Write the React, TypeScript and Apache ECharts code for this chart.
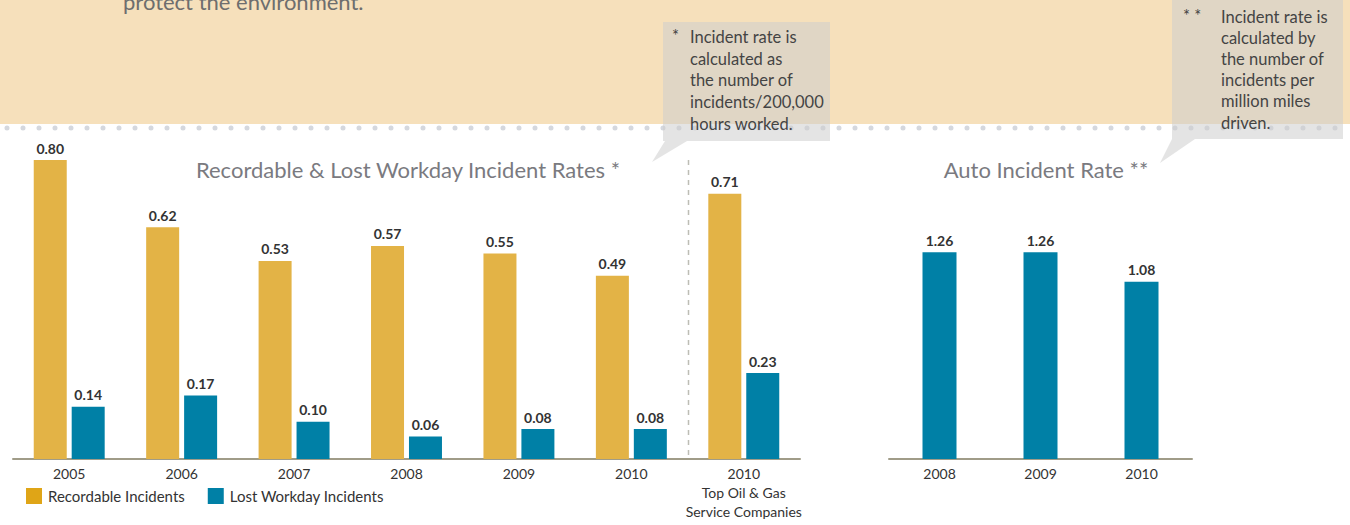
import React, { useEffect, useRef } from "react";
import * as echarts from "echarts";

const incidentCategories = ["2005", "2006", "2007", "2008", "2009", "2010", "2010\nTop Oil & Gas\nService Companies"];
const recordableValues = [0.8, 0.62, 0.53, 0.57, 0.55, 0.49, 0.71];
const lostWorkdayValues = [0.14, 0.17, 0.1, 0.06, 0.08, 0.08, 0.23];
const autoCategories = ["2008", "2009", "2010"];
const autoValues = [1.26, 1.26, 1.08];

const FONT = "Lato, 'Open Sans', sans-serif";
const YELLOW = "#E3B346";
const BLUE = "#0080A6";
const AXIS = "#A09C88";

export default function App() {
  const ref = useRef<HTMLDivElement>(null);
  useEffect(() => {
    document.body.style.margin = "0";
    const chart = echarts.init(ref.current!, undefined, { renderer: "svg" });
    const label = {
      show: true,
      position: "top",
      distance: 5,
      fontFamily: FONT,
      fontSize: 14,
      fontWeight: "bold",
      color: "#333",
      formatter: (p: any) => Number(p.value).toFixed(2),
    };
    const xCommon = {
      type: "category",
      axisLine: { lineStyle: { color: AXIS, width: 2 } },
      axisTick: { inside: true, length: 4, interval: 0, lineStyle: { color: AXIS, width: 2 } },
      axisLabel: { interval: 0, fontFamily: FONT, fontSize: 14, color: "#333", margin: 5, lineHeight: 19 },
    };
    const calloutText = { fontFamily: FONT, fontSize: 16.5, fill: "#444" };
    const staticGraphics: any[] = [
      { type: "rect", z: -10, shape: { x: 0, y: 0, width: 1350, height: 124 }, style: { fill: "#F6E0BB" } },
      {
        type: "text",
        x: 123,
        y: 12,
        style: { text: "protect the environment.", fontFamily: FONT, fontSize: 22, fill: "#6E6E6E", verticalAlign: "bottom" },
      },
      {
        type: "line",
        shape: { x1: 7, y1: 128, x2: 1350, y2: 128 },
        style: { stroke: "#D5D8DE", lineWidth: 5, lineCap: "round", lineDash: [0, 16] },
      },
      {
        type: "polygon",
        shape: { points: [[663, 22], [830, 22], [830, 141], [687, 141], [652, 162], [665, 141], [663, 141]] },
        style: { fill: "rgba(205,205,205,0.55)" },
      },
      { type: "text", x: 672, y: 27, style: { ...calloutText, text: "*" } },
      {
        type: "text",
        x: 690,
        y: 26,
        style: { ...calloutText, text: "Incident rate is\ncalculated as\nthe number of\nincidents/200,000\nhours worked.", lineHeight: 21.7 },
      },
      {
        type: "polygon",
        shape: { points: [[1172, 0], [1343, 0], [1343, 139], [1195, 139], [1160, 163], [1172, 139]] },
        style: { fill: "rgba(205,205,205,0.55)" },
      },
      { type: "text", x: 1183, y: 7, style: { ...calloutText, text: "* *" } },
      {
        type: "text",
        x: 1221,
        y: 6,
        style: {
          ...calloutText,
          text: "Incident rate is\ncalculated by\nthe number of\nincidents per\nmillion miles\ndriven.",
          lineHeight: 21.2,
        },
      },
      {
        type: "text",
        x: 408,
        y: 169,
        style: {
          text: "Recordable & Lost Workday Incident Rates *",
          fontFamily: FONT,
          fontSize: 22,
          fill: "#7A7A80",
          align: "center",
          verticalAlign: "middle",
        },
      },
      {
        type: "text",
        x: 1046,
        y: 169,
        style: {
          text: "Auto Incident Rate **",
          fontFamily: FONT,
          fontSize: 22,
          fill: "#7A7A80",
          align: "center",
          verticalAlign: "middle",
        },
      },
    ];
    chart.setOption({
      animation: false,
      textStyle: { fontFamily: FONT },
      grid: [
        { left: 13, right: 550, top: 160, bottom: 66 },
        { left: 889, right: 158, top: 160, bottom: 66 },
      ],
      xAxis: [
        { ...xCommon, gridIndex: 0, data: incidentCategories },
        { ...xCommon, gridIndex: 1, data: autoCategories },
      ],
      yAxis: [
        { type: "value", gridIndex: 0, min: 0, max: 0.8, show: false },
        { type: "value", gridIndex: 1, min: 0, max: 1.823, show: false },
      ],
      legend: {
        left: 26,
        top: 488,
        padding: 0,
        itemWidth: 16,
        itemHeight: 16,
        itemGap: 23,
        icon: "rect",
        textStyle: { fontFamily: FONT, fontSize: 15, color: "#333", padding: [0, 0, 0, 1] },
        data: [
          { name: "Recordable Incidents", itemStyle: { color: "#DFA517" } },
          { name: "Lost Workday Incidents", itemStyle: { color: BLUE } },
        ],
      },
      series: [
        {
          name: "Recordable Incidents",
          type: "bar",
          xAxisIndex: 0,
          yAxisIndex: 0,
          data: recordableValues,
          barWidth: 33,
          barGap: "15%",
          itemStyle: { color: YELLOW },
          label,
        },
        {
          name: "Lost Workday Incidents",
          type: "bar",
          xAxisIndex: 0,
          yAxisIndex: 0,
          data: lostWorkdayValues,
          barWidth: 33,
          barGap: "15%",
          itemStyle: { color: BLUE },
          label,
        },
        {
          name: "Auto Incident Rate",
          type: "bar",
          xAxisIndex: 1,
          yAxisIndex: 1,
          data: autoValues,
          barWidth: 34,
          itemStyle: { color: BLUE },
          label,
        },
      ],
      graphic: staticGraphics,
    });
    // dashed separator at the boundary between the last two categories of the first chart
    const xa = chart.convertToPixel({ xAxisIndex: 0 }, incidentCategories[5]) as number;
    const xb = chart.convertToPixel({ xAxisIndex: 0 }, incidentCategories[6]) as number;
    const yTop = chart.convertToPixel({ yAxisIndex: 0 }, 0.8) as number;
    const yBot = chart.convertToPixel({ yAxisIndex: 0 }, 0) as number;
    const sx = Math.round((xa + xb) / 2) + 0.5;
    chart.setOption({
      graphic: [
        ...staticGraphics,
        {
          type: "line",
          z: -1,
          shape: { x1: sx, y1: yTop, x2: sx, y2: yBot },
          style: { stroke: "#BDBDB5", lineWidth: 1.5, lineDash: [5, 5] },
        },
      ],
    });
    return () => chart.dispose();
  }, []);
  return <div ref={ref} style={{ width: 1350, height: 525 }} />;
}
